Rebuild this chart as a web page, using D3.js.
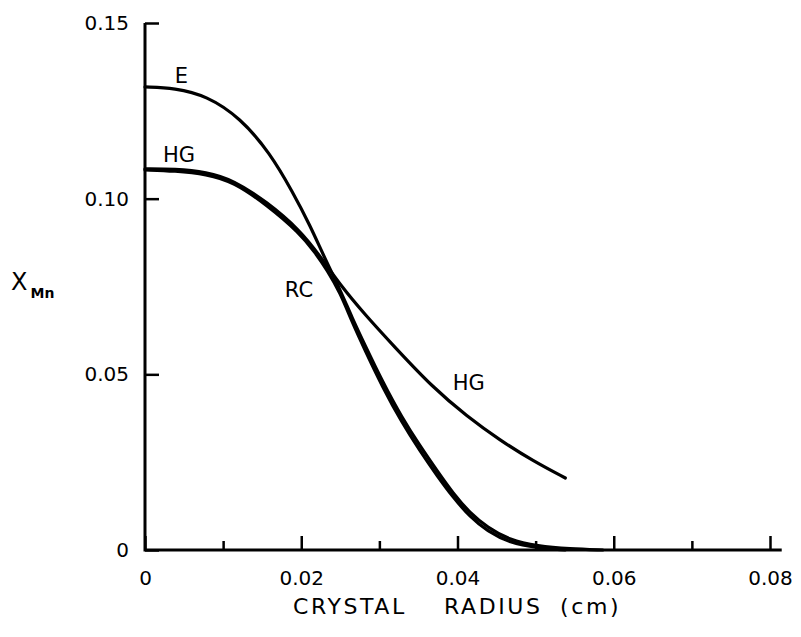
<!DOCTYPE html>
<html lang="en">
  <head>
    <meta charset="utf-8">
    <title>X Mn vs crystal radius</title>
    <script src="https://d3js.org/d3.v7.min.js"></script>
    <style>
      body { margin: 0; background: #fff; }
      text { font-family: "DejaVu Sans", "Liberation Sans", sans-serif; fill: #000; }
    </style>
  </head>
  <body>
    <div id="chart"></div>
    <script>
      // Tick values
      var xMajorTicks = [0, 0.02, 0.04, 0.06, 0.08];
      var xMinorTicks = [0.01, 0.03, 0.05, 0.07];
      var yTicks = [0, 0.05, 0.10, 0.15];

      // Curve E (thin, upper start)
      var radiusE = [0, 0.0038, 0.0079, 0.0122, 0.0160, 0.0189, 0.0211, 0.0230, 0.0250, 0.0265,
                     0.0282, 0.0304, 0.0329, 0.0352, 0.0374, 0.0394, 0.0416, 0.0438, 0.0467, 0.0502,
                     0.0544, 0.0586];
      var xmnE = [0.1318, 0.1315, 0.1293, 0.1230, 0.1130, 0.1019, 0.0925, 0.0831, 0.0740, 0.0661,
                  0.0581, 0.0479, 0.0376, 0.0296, 0.0225, 0.0162, 0.0105, 0.0065, 0.0028, 0.0011,
                  0.0003, 0];

      // Curve HG
      var radiusHG = [0, 0.0038, 0.0079, 0.0113, 0.0156, 0.0198, 0.0224, 0.0250, 0.0282, 0.0317,
                      0.0369, 0.0412, 0.0454, 0.0497, 0.0538];
      var xmnHG = [0.1085, 0.1085, 0.1076, 0.1053, 0.0991, 0.0911, 0.0837, 0.0754, 0.0669, 0.0584,
                   0.0461, 0.0381, 0.0313, 0.0253, 0.0205];

      // Curve RC
      var radiusRC = [0, 0.0038, 0.0079, 0.0113, 0.0156, 0.0198, 0.0218, 0.0233, 0.0250, 0.0265,
                      0.0282, 0.0304, 0.0329, 0.0352, 0.0374, 0.0394, 0.0416, 0.0438, 0.0467, 0.0502,
                      0.0538];
      var xmnRC = [0.1082, 0.1079, 0.1070, 0.1048, 0.0982, 0.0902, 0.0846, 0.0797, 0.0732, 0.0649,
                   0.0567, 0.0464, 0.0362, 0.0282, 0.0211, 0.0151, 0.0094, 0.0054, 0.0020, 0.0006,
                   0];

      // Curve labels
      var labelText = ["E", "HG", "RC", "HG"];
      var labelX = [0.0038, 0.0023, 0.0179, 0.0394];
      var labelY = [0.1330, 0.1105, 0.0720, 0.0456];

      // x axis title words
      var titleWords = ["CRYSTAL", "RADIUS", "(cm)"];
      var titleWordX = [293, 444, 560];

      var width = 801, height = 637;
      var x = d3.scaleLinear().domain([0, 0.08]).range([145, 770]);
      var y = d3.scaleLinear().domain([0, 0.15]).range([550, 23]);

      var svg = d3.select("#chart").append("svg")
          .attr("width", width)
          .attr("height", height);

      // x axis: major ticks with labels
      var fmt = function(d) { return d === 0 ? "0" : d3.format(".2f")(d); };
      var gx = svg.append("g")
          .attr("transform", "translate(0," + y(0) + ")")
          .call(d3.axisBottom(x).tickValues(xMajorTicks).tickFormat(fmt)
                .tickSizeInner(-14).tickSizeOuter(0).tickPadding(21));
      gx.select(".domain").remove();
      gx.selectAll("line").attr("stroke", "#000").attr("stroke-width", 2.5);
      gx.selectAll("text").attr("font-size", 20);

      // x axis: minor ticks
      var gxm = svg.append("g")
          .attr("transform", "translate(0," + y(0) + ")")
          .call(d3.axisBottom(x).tickValues(xMinorTicks).tickFormat("")
                .tickSizeInner(-9).tickSizeOuter(0));
      gxm.select(".domain").remove();
      gxm.selectAll("line").attr("stroke", "#000").attr("stroke-width", 2.5);

      // y axis
      var gy = svg.append("g")
          .attr("transform", "translate(" + x(0) + ",0)")
          .call(d3.axisLeft(y).tickValues(yTicks).tickFormat(fmt)
                .tickSizeInner(-14).tickSizeOuter(0).tickPadding(16));
      gy.select(".domain").remove();
      gy.selectAll("line").attr("stroke", "#000").attr("stroke-width", 2.5);
      gy.selectAll("text").attr("font-size", 20);

      // axis lines
      svg.append("path")
          .attr("d", "M" + x(0) + "," + y(0.15) + "V" + y(0) + "H" + x(0.0815))
          .attr("fill", "none")
          .attr("stroke", "#000")
          .attr("stroke-width", 3);

      // curves
      var line = d3.line()
          .x(function(d) { return x(d[0]); })
          .y(function(d) { return y(d[1]); })
          .curve(d3.curveBasis);

      var curves = [
        d3.zip(radiusE, xmnE),
        d3.zip(radiusHG, xmnHG),
        d3.zip(radiusRC, xmnRC)
      ];
      svg.selectAll(".curve")
          .data(curves)
          .enter().append("path")
          .attr("class", "curve")
          .attr("d", line)
          .attr("fill", "none")
          .attr("stroke", "#000")
          .attr("stroke-width", 3.2)
          .attr("stroke-linecap", "round");

      // curve labels
      svg.selectAll(".lbl")
          .data(labelText)
          .enter().append("text")
          .attr("class", "lbl")
          .attr("x", function(d, i) { return x(labelX[i]); })
          .attr("y", function(d, i) { return y(labelY[i]); })
          .attr("font-size", 21)
          .text(function(d) { return d; });

      // y axis title: X with subscript Mn
      var yt = svg.append("text")
          .attr("x", 11)
          .attr("y", 290)
          .attr("font-size", 24);
      yt.append("tspan").text("X");
      yt.append("tspan").attr("dx", 3).attr("dy", 8).attr("font-size", 14)
          .attr("font-weight", "bold").text("Mn");

      // x axis title
      svg.selectAll(".xtitle")
          .data(titleWords)
          .enter().append("text")
          .attr("class", "xtitle")
          .attr("x", function(d, i) { return titleWordX[i]; })
          .attr("y", 614)
          .attr("font-size", 22)
          .attr("letter-spacing", 2.6)
          .text(function(d) { return d; });
    </script>
  </body>
</html>
